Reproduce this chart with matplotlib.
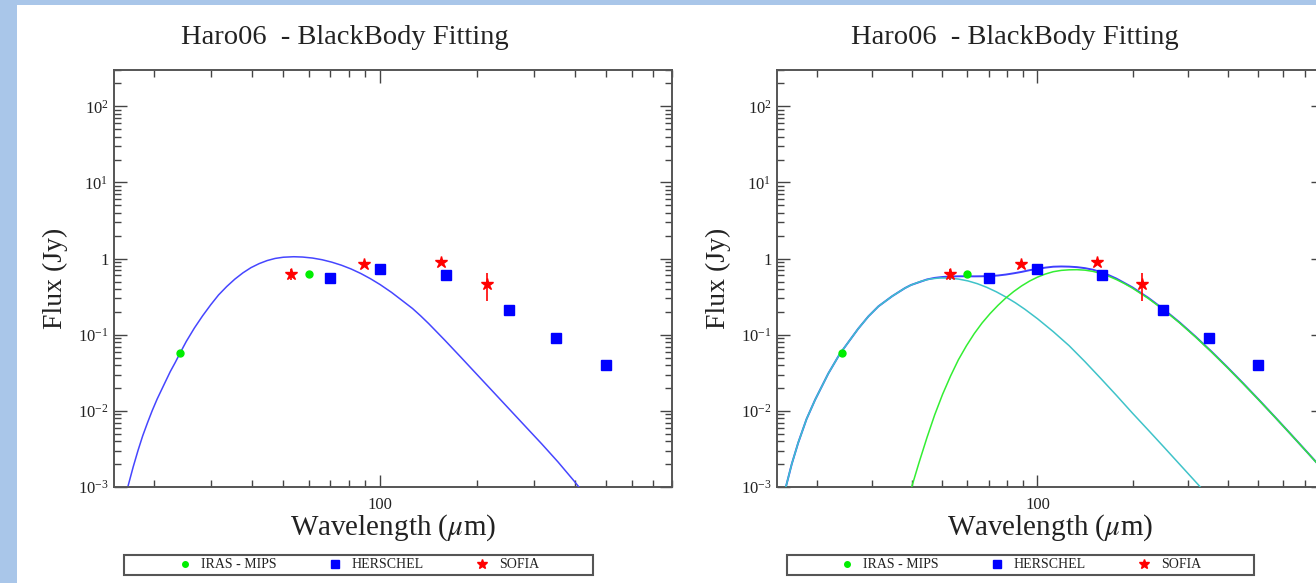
import numpy as np
import matplotlib
matplotlib.use('Agg')
import matplotlib.pyplot as plt
from matplotlib.lines import Line2D
from matplotlib.patches import Rectangle
from matplotlib.ticker import LogLocator, FuncFormatter, NullFormatter

plt.rcParams['font.family'] = ['Liberation Serif', 'DejaVu Serif']
plt.rcParams['mathtext.fontset'] = 'stix'
plt.rcParams['axes.unicode_minus'] = False

# ---------------- data ----------------
iras_wl = [24, 60]
iras_flux = [0.057, 0.62]
herschel_wl = [70, 100, 160, 250, 350, 500]
herschel_flux = [0.55, 0.74, 0.61, 0.21, 0.090, 0.040]
sofia_wl = [53, 89, 154, 214]
sofia_flux = [0.63, 0.86, 0.90, 0.46]
sofia_err = [0.10, 0.04, 0.04, 0.18]

# left panel: single blackbody fit
single_wl = [16.6, 17.2, 17.8, 18.4, 19.05, 19.7, 20.4, 21.4, 22.4, 23.2,
             24.0, 25.1, 26.6, 28.2, 29.9, 31.6, 33.5, 35.5, 37.6, 39.8,
             42.2, 44.7, 47.3, 50.1, 54.0, 57.5, 61.7, 66.1, 70.8, 75.9,
             81.3, 87.1, 93.3, 100, 108.4, 117.5, 125.9, 133.4, 141.3, 149.6,
             158.5, 177.8, 199.5, 223.9, 251.2, 281.8, 316.2, 354.8, 398.1, 416]
single_flux = [0.00105, 0.00184, 0.00302, 0.00469, 0.0070, 0.0101, 0.0143, 0.0219, 0.0328, 0.0431,
               0.057, 0.0815, 0.1225, 0.177, 0.248, 0.333, 0.43, 0.538, 0.65, 0.76,
               0.859, 0.943, 1.005, 1.042, 1.058, 1.048, 1.017, 0.966, 0.898, 0.818,
               0.730, 0.637, 0.544, 0.455, 0.360, 0.277, 0.221, 0.177, 0.1398, 0.109,
               0.0847, 0.0505, 0.0299, 0.0177, 0.01048, 0.00621, 0.00368, 0.00214, 0.00120, 0.00095]

# right panel: warm component (cyan)
warm_wl = [16.0, 16.7, 17.5, 18.6, 19.8, 21.8, 23.7, 27.1, 29.2, 31.4, 34.7, 38.1,
           39.8, 42.7, 45.7, 49.0, 52.5, 56.2, 60.3, 64.6, 69.2, 74.1,
           79.4, 85.1, 91.2, 100, 112.2, 125.9, 141.3, 158.5, 177.8, 199.5,
           223.9, 251.2, 281.8, 316.2, 331]
warm_flux = [0.001, 0.0020, 0.0038, 0.0078, 0.014, 0.031, 0.056, 0.12, 0.1746, 0.236, 0.3206, 0.41,
             0.449, 0.502, 0.540, 0.5566, 0.5549, 0.5387, 0.5088, 0.4675, 0.4184, 0.3662,
             0.3133, 0.263, 0.2162, 0.1623, 0.1097, 0.0718, 0.0443, 0.0267, 0.01594, 0.00938,
             0.00561, 0.00334, 0.00198, 0.001173, 0.00095]

# right panel: cold component (green)
cold_wl = [39.8, 42.2, 44.7, 47.3, 50.1, 53.1, 56.2, 59.6, 63.1, 66.8,
           70.8, 75.0, 79.4, 84.1, 89.1, 94.4, 100, 105.9, 112.2, 118.9,
           125.9, 133.4, 141.3, 149.6, 158.5, 167.9, 177.8, 188.4, 199.5, 223.9,
           251.2, 281.8, 316.2, 354.8, 398.1, 446.7, 501.2, 562.3, 631.0, 707.9, 800]
cold_flux = [0.000933, 0.00209, 0.00444, 0.00886, 0.0165, 0.0287, 0.0468, 0.0716, 0.1035, 0.1427,
             0.1895, 0.2433, 0.3038, 0.3692, 0.438, 0.5067, 0.5708, 0.6269, 0.6728, 0.700,
             0.712, 0.715, 0.705, 0.680, 0.6383, 0.5866, 0.5297, 0.4696, 0.4102, 0.3006,
             0.2109, 0.1426, 0.0933, 0.0596, 0.03724, 0.0229, 0.01391, 0.00837, 0.00498, 0.00295, 0.00168]

# right panel: total fit (blue)
total_wl = [16.0, 16.7, 17.5, 18.6, 19.8, 21.8, 23.7, 27.1, 29.2, 31.4,
            34.7, 38.1, 39.8, 44.7, 47.3, 50.1, 53.1, 56.2, 59.6, 63.1,
            66.8, 70.8, 75.0, 79.4, 84.1, 89.1, 94.4, 100, 105.9, 112.2,
            118.9, 125.9, 133.4, 141.3, 149.6, 158.5, 167.9, 177.8, 199.5, 223.9,
            251.2, 281.8, 316.2, 354.8, 398.1, 446.7, 501.2, 562.3, 631.0, 707.9, 800]
total_flux = [0.001, 0.0020, 0.0038, 0.0078, 0.014, 0.031, 0.056, 0.12, 0.1746, 0.236,
              0.3206, 0.41, 0.450, 0.532, 0.558, 0.5735, 0.582, 0.5855, 0.586, 0.5845,
              0.586, 0.5905, 0.600, 0.617, 0.641, 0.669, 0.704, 0.733, 0.761, 0.7825,
              0.788, 0.784, 0.772, 0.749, 0.715, 0.665, 0.607, 0.5456, 0.4196, 0.3062,
              0.2142, 0.1446, 0.0945, 0.0603, 0.0376, 0.0231, 0.0140, 0.0084, 0.0050, 0.00296, 0.00169]

title_text = "Haro06  - BlackBody Fitting"
legend_labels = ["IRAS - MIPS", "HERSCHEL", "SOFIA"]

# ---------------- figure ----------------
W, H = 1316, 583
fig = plt.figure(figsize=(W / 100, H / 100), dpi=100)
fig.patch.set_facecolor('white')

# slide background strips
fig.patches.append(Rectangle((0, 0), 17 / W, 1, transform=fig.transFigure,
                             facecolor='#a9c6e9', edgecolor='none', zorder=-10))
fig.patches.append(Rectangle((0, 1 - 5 / H), 1, 5 / H, transform=fig.transFigure,
                             facecolor='#a9c6e9', edgecolor='none', zorder=-10))

TXT = '#222222'
SP = '#555555'
C_IRAS = '#00ee00'
C_HER = '#0000ff'
C_SOF = '#ff0000'


def fpx(x0, y_top, w, h):
    return [x0 / W, 1 - (y_top + h) / H, w / W, h / H]


def yfmt(v, pos):
    e = int(round(np.log10(v)))
    if e == 0:
        return '1'
    return r'$\mathdefault{10^{%d}}$' % e


def style_axes(ax):
    ax.set_xscale('log')
    ax.set_yscale('log')
    ax.set_xlim(15, 800)
    ax.set_ylim(1e-3, 300)
    ax.xaxis.set_major_locator(LogLocator(base=10, numticks=10))
    ax.xaxis.set_minor_locator(LogLocator(base=10, subs=np.arange(2, 10), numticks=20))
    ax.yaxis.set_major_locator(LogLocator(base=10, numticks=12))
    ax.yaxis.set_minor_locator(LogLocator(base=10, subs=np.arange(2, 10), numticks=20))
    ax.xaxis.set_major_formatter(FuncFormatter(lambda v, p: '%g' % v))
    ax.xaxis.set_minor_formatter(NullFormatter())
    ax.yaxis.set_major_formatter(FuncFormatter(yfmt))
    ax.yaxis.set_minor_formatter(NullFormatter())
    ax.tick_params(which='both', direction='in', top=True, right=True,
                   color='#444444', width=1.0, labelcolor=TXT)
    ax.tick_params(which='major', length=9, labelsize=12)
    ax.tick_params(which='minor', length=5)
    ax.tick_params(axis='x', which='major', pad=7)
    ax.tick_params(axis='y', which='major', pad=4)
    for s in ax.spines.values():
        s.set_color(SP)
        s.set_linewidth(1.4)
    ax.set_xlabel(r'Wavelength ($\mu$m)', fontsize=21, color=TXT, labelpad=0)
    ax.set_ylabel('Flux (Jy)', fontsize=20, color=TXT, labelpad=7)


def plot_data(ax):
    ax.plot(iras_wl, iras_flux, ls='none', marker='o', ms=5, color=C_IRAS, zorder=6)
    ax.plot(herschel_wl, herschel_flux, ls='none', marker='s', ms=7, color=C_HER, zorder=6)
    ax.errorbar(sofia_wl, sofia_flux, yerr=sofia_err, ls='none', marker='*', ms=9,
                color=C_SOF, elinewidth=1.2, capsize=0, zorder=7)


def add_legend(cx, x0, x1):
    fig.patches.append(Rectangle((x0 / W, 1 - 575 / H), (x1 - x0) / W, 20 / H,
                                 transform=fig.transFigure, fill=False,
                                 edgecolor=SP, linewidth=1.5, zorder=5))
    handles = [Line2D([], [], ls='none', marker='o', ms=4, color=C_IRAS),
               Line2D([], [], ls='none', marker='s', ms=6, color=C_HER),
               Line2D([], [], ls='none', marker='*', ms=7, color=C_SOF)]
    leg = fig.legend(handles, legend_labels, loc='center',
                     bbox_to_anchor=(cx / W, 1 - 565 / H), ncol=3, frameon=False,
                     fontsize=10, handlelength=1.0, handletextpad=0.7,
                     columnspacing=3.7, borderpad=0)
    for t in leg.get_texts():
        t.set_color(TXT)


# left panel
ax1 = fig.add_axes(fpx(114, 70, 558, 417))
style_axes(ax1)
ax1.plot(single_wl, single_flux, color='#4646ff', lw=1.1, zorder=3)
plot_data(ax1)
fig.text(345 / W, 1 - 37 / H, title_text, ha='center', va='center', fontsize=20.5, color=TXT)
add_legend(358.5, 124, 593)

# right panel (extends past the right edge of the picture)
ax2 = fig.add_axes(fpx(777, 70, 546, 417))
style_axes(ax2)
ax2.plot(total_wl, total_flux, color='#3f3fff', lw=1.4, zorder=2)
ax2.plot(warm_wl, warm_flux, color='#3fc3c9', lw=1.1, zorder=3)
ax2.plot(cold_wl, cold_flux, color='#33ee33', lw=1.1, zorder=3)
plot_data(ax2)
fig.text(1015 / W, 1 - 37 / H, title_text, ha='center', va='center', fontsize=20.5, color=TXT)
add_legend(1020.5, 787, 1254)

fig.savefig('out.png', dpi=100, facecolor=fig.get_facecolor())
